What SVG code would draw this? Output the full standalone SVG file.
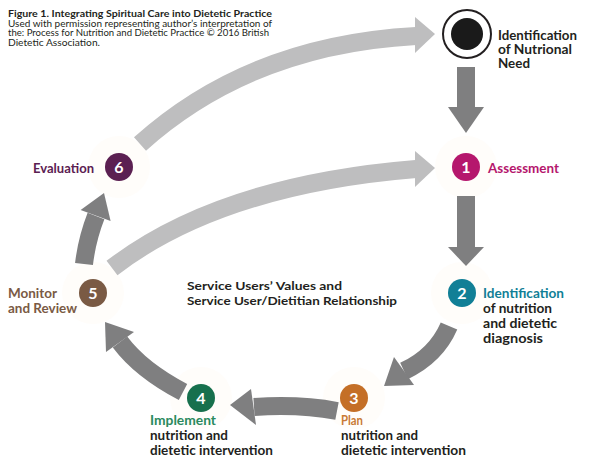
<svg xmlns="http://www.w3.org/2000/svg" width="589" height="470" viewBox="0 0 589 470">
<style>
text{font-family:Lato,"Liberation Sans",sans-serif}
.lbl{font-size:12.5px;font-weight:bold}
.dk{fill:#231f20}
.num{font-size:16px;font-weight:bold;fill:#fff;text-anchor:middle}
.sh{fill:none;stroke:#7f7f80;stroke-width:18}
.shl{fill:none;stroke:#bebebf;stroke-width:18}
.hd{fill:#7f7f80}
.hdl{fill:#bebebf}
.halo{fill:#fffdfa}
</style>
<rect width="589" height="470" fill="#fff"/>
<g id="caption">
<text x="8" y="17" font-size="10" font-weight="bold" class="dk" textLength="264" lengthAdjust="spacingAndGlyphs">Figure 1. Integrating Spiritual Care into Dietetic Practice</text>
<text x="8" y="26.5" font-size="9.5" class="dk" textLength="264" lengthAdjust="spacingAndGlyphs">Used with permission representing author’s interpretation of</text>
<text x="8" y="36" font-size="9.5" class="dk" textLength="261" lengthAdjust="spacingAndGlyphs">the: Process for Nutrition and Dietetic Practice © 2016 British</text>
<text x="8" y="45.5" font-size="9.5" class="dk" textLength="92" lengthAdjust="spacingAndGlyphs">Dietetic Association.</text>
</g>
<g id="halos">
<circle class="halo" cx="466" cy="167" r="31"/>
<circle class="halo" cx="462" cy="293" r="31"/>
<circle class="halo" cx="354" cy="398" r="31"/>
<circle class="halo" cx="201" cy="398" r="31"/>
<circle class="halo" cx="93" cy="293" r="31"/>
<circle class="halo" cx="119" cy="167" r="31"/>
</g>
<g id="connectors">
<path class="shl" d="M140,144 Q250,45 416,36"/>
<polygon class="hdl" points="415,17 415,53 435,34"/>
<path class="shl" d="M112,268 Q220,185 416,169"/>
<polygon class="hdl" points="415,151 415,187 435,168"/>
<path class="sh" d="M466,67 V108"/>
<polygon class="hd" points="448,107 484,107 466,133"/>
<path class="sh" d="M466,196 V248"/>
<polygon class="hd" points="448,247 484,247 466,266"/>
<path class="sh" d="M449,326 Q436,356 404,371"/>
<polygon class="hd" points="394,357 414,385 384,386"/>
<path class="sh" d="M337,411 Q300,404 254,407"/>
<polygon class="hd" points="251,389 256,425 230,405"/>
<path class="sh" d="M183,392 Q141,370 120,342"/>
<polygon class="hd" points="134,332 106,352 105,322"/>
<path class="sh" d="M84,264 Q87,239 96,216"/>
<polygon class="hd" points="80.6,210 110.6,221 104,193"/>
</g>
<g id="node-need">
<circle cx="467" cy="34" r="24" fill="#fff" stroke="#231f20" stroke-width="2"/>
<circle cx="467" cy="34" r="16" fill="#1a1a1a"/>
<text class="lbl dk" x="498" y="40" textLength="79" lengthAdjust="spacingAndGlyphs">Identification</text>
<text class="lbl dk" x="498" y="54" textLength="74" lengthAdjust="spacingAndGlyphs">of Nutrional</text>
<text class="lbl dk" x="498" y="68" textLength="32" lengthAdjust="spacingAndGlyphs">Need</text>
</g>
<g id="node-1">
<circle cx="466" cy="167" r="14" fill="#b5176d"/>
<text class="num" x="466" y="172.5">1</text>
<text class="lbl" x="488" y="173" fill="#b5176d" textLength="71" lengthAdjust="spacingAndGlyphs">Assessment</text>
</g>
<g id="node-2">
<circle cx="462" cy="293" r="14" fill="#117f96"/>
<text class="num" x="462" y="298.5">2</text>
<text class="lbl" x="483" y="298" fill="#117f96" textLength="81" lengthAdjust="spacingAndGlyphs">Identification</text>
<text class="lbl dk" x="483" y="313" textLength="69" lengthAdjust="spacingAndGlyphs">of nutrition</text>
<text class="lbl dk" x="483" y="328" textLength="74" lengthAdjust="spacingAndGlyphs">and dietetic</text>
<text class="lbl dk" x="483" y="342.5" textLength="60" lengthAdjust="spacingAndGlyphs">diagnosis</text>
</g>
<g id="node-3">
<circle cx="354" cy="398" r="14" fill="#c46f27"/>
<text class="num" x="354" y="403.5">3</text>
<text class="lbl" x="341" y="425" fill="#c97a35" textLength="22" lengthAdjust="spacingAndGlyphs">Plan</text>
<text class="lbl dk" x="341" y="440" textLength="77" lengthAdjust="spacingAndGlyphs">nutrition and</text>
<text class="lbl dk" x="341" y="454.5" textLength="125" lengthAdjust="spacingAndGlyphs">dietetic intervention</text>
</g>
<g id="node-4">
<circle cx="201" cy="398" r="14" fill="#17704d"/>
<text class="num" x="201" y="403.5">4</text>
<text class="lbl" x="150" y="425" fill="#2a8a5e" textLength="66" lengthAdjust="spacingAndGlyphs">Implement</text>
<text class="lbl dk" x="150" y="440" textLength="78" lengthAdjust="spacingAndGlyphs">nutrition and</text>
<text class="lbl dk" x="150" y="454.5" textLength="123" lengthAdjust="spacingAndGlyphs">dietetic intervention</text>
</g>
<g id="node-5">
<circle cx="93" cy="293" r="14" fill="#7a5a44"/>
<text class="num" x="93" y="298.5">5</text>
<text class="lbl" x="8" y="298" fill="#7a5a44" textLength="49" lengthAdjust="spacingAndGlyphs">Monitor</text>
<text class="lbl" x="8" y="313" fill="#7a5a44" textLength="69" lengthAdjust="spacingAndGlyphs">and Review</text>
</g>
<g id="node-6">
<circle cx="119" cy="167" r="14" fill="#5b2052"/>
<text class="num" x="119" y="172.5">6</text>
<text class="lbl" x="33" y="173" fill="#5b2052" textLength="61" lengthAdjust="spacingAndGlyphs">Evaluation</text>
</g>
<g id="center-text">
<text class="dk" x="187" y="290" font-size="12" font-weight="bold" textLength="155" lengthAdjust="spacingAndGlyphs">Service Users’ Values and</text>
<text class="dk" x="187" y="305" font-size="12" font-weight="bold" textLength="210" lengthAdjust="spacingAndGlyphs">Service User/Dietitian Relationship</text>
</g>
</svg>
